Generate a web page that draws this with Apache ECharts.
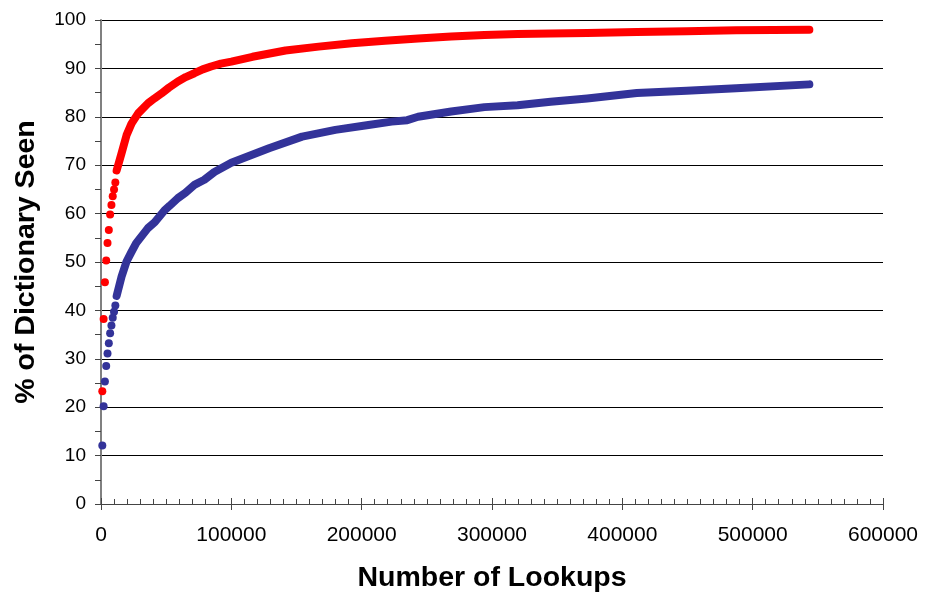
<!DOCTYPE html>
<html>
<head>
<meta charset="utf-8">
<script src="https://cdn.jsdelivr.net/npm/echarts@6/dist/echarts.min.js"></script>
<style>html,body{margin:0;padding:0;background:#fff}#c{width:927px;height:604px}</style>
</head>
<body>
<div id="c"></div>
<script>
// Sparse early samples (individually visible dots)
const redEarlyX = [1000,2000,3000,4000,5000,6000,7000,8000,9000,10000,11000];
const redEarlyY = [23.3,38.2,45.8,50.3,53.9,56.6,59.8,61.8,63.6,65.0,66.4];
const blueEarlyX = [1000,2000,3000,4000,5000,6000,7000,8000,9000,10000,11000];
const blueEarlyY = [12.1,20.2,25.3,28.5,31.1,33.2,35.3,36.9,38.5,39.7,41.0];
// Dense part (points merge into a continuous band)
const redX = [12000,15800,19600,23400,28500,36100,41000,46300,52000,59000,65000,71700,78000,84400,92000,100000,116200,141600,167000,192500,217900,243300,268700,294200,319600,345000,373000,411100,449300,487400,543500];
const redY = [68.9,72.5,76.2,78.6,80.7,82.8,83.8,84.8,86.0,87.3,88.2,89.0,89.8,90.4,91.0,91.4,92.4,93.7,94.5,95.2,95.7,96.2,96.6,96.9,97.1,97.2,97.3,97.5,97.7,97.9,98.0];
const blueX = [12000,15800,19600,23400,27000,36000,41200,48800,52600,59000,64800,72000,79300,87000,100000,128900,154300,179800,205200,223000,235000,243300,268700,294200,319600,345000,373000,411100,449300,487400,543500];
const blueY = [43.0,47.0,50.1,52.1,53.9,57.0,58.2,60.7,61.6,63.2,64.3,66.0,67.0,68.6,70.5,73.5,75.9,77.3,78.3,79.0,79.3,80.0,81.1,82.0,82.4,83.1,83.8,84.9,85.4,85.9,86.7];
const xTicks = [0,100000,200000,300000,400000,500000,600000];
const yTicks = [0,10,20,30,40,50,60,70,80,90,100];

const zip = (a,b) => a.map((v,i)=>[v,b[i]]);
const RED = '#FF0000', BLUE = '#333399';
const FONT = 'Liberation Sans, Arial, sans-serif';

const chart = echarts.init(document.getElementById('c'));
chart.setOption({
  animation: false,
  backgroundColor: '#fff',
  grid: {left: 101, right: 44, top: 20, bottom: 100, containLabel: false},
  xAxis: [{
    type: 'value', min: xTicks[0], max: xTicks[xTicks.length-1], interval: 100000,
    name: 'Number of Lookups', nameLocation: 'middle', nameGap: 60,
    nameTextStyle: {fontFamily: FONT, fontWeight: 'bold', fontSize: 28.5, color: '#000'},
    axisLine: {show: true, lineStyle: {color: '#444', width: 1}},
    axisTick: {show: true, inside: true, length: 6, lineStyle: {color: '#444'}},
    minorTick: {show: true, splitNumber: 10, length: 5, lineStyle: {color: '#444'}},
    axisLabel: {fontFamily: FONT, fontSize: 21, color: '#000', margin: 21,
                formatter: v => String(v)},
    splitLine: {show: false}
  },{
    type: 'value', min: xTicks[0], max: xTicks[xTicks.length-1], interval: 100000,
    position: 'bottom', offset: 0,
    axisLine: {show: false},
    axisTick: {show: true, inside: false, length: 6, lineStyle: {color: '#444'}},
    axisLabel: {show: false},
    splitLine: {show: false}
  }],
  yAxis: {
    type: 'value', min: yTicks[0], max: yTicks[yTicks.length-1], interval: 10,
    name: '% of Dictionary Seen', nameLocation: 'middle', nameGap: 60, nameRotate: 90,
    nameTextStyle: {fontFamily: FONT, fontWeight: 'bold', fontSize: 28.5, color: '#000'},
    axisLine: {show: true, lineStyle: {color: '#808080', width: 2}},
    axisTick: {show: true, inside: false, length: 6, lineStyle: {color: '#444'}},
    minorTick: {show: true, splitNumber: 2, length: 6, lineStyle: {color: '#444'}},
    axisLabel: {fontFamily: FONT, fontSize: 19, color: '#000', margin: 15},
    splitLine: {show: true, lineStyle: {color: '#000', width: 1}}
  },
  series: [
    {type: 'line', data: zip(blueX, blueY), showSymbol: false, smooth: false,
     lineStyle: {color: BLUE, width: 8, cap: 'round', join: 'round'}, z: 3},
    {type: 'scatter', data: zip(blueEarlyX, blueEarlyY), symbol: 'circle', symbolSize: 8,
     itemStyle: {color: BLUE, opacity: 1}, z: 3},
    {type: 'line', data: zip(redX, redY), showSymbol: false, smooth: false,
     lineStyle: {color: RED, width: 8, cap: 'round', join: 'round'}, z: 4},
    {type: 'scatter', data: zip(redEarlyX, redEarlyY), symbol: 'circle', symbolSize: 8,
     itemStyle: {color: RED, opacity: 1}, z: 4}
  ]
});
</script>
</body>
</html>
